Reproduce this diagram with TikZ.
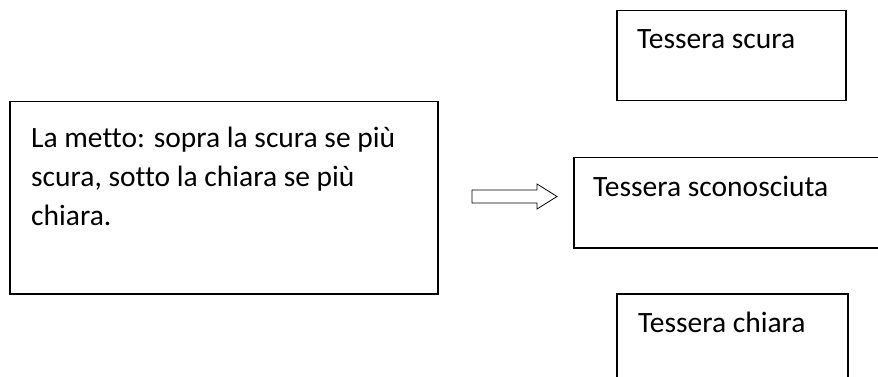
\documentclass[tikz,border=0pt]{standalone}
\usepackage{fontspec}
\setmainfont[Ligatures=NoCommon]{Carlito}
\begin{document}
\begin{tikzpicture}[x=1pt,y=-1pt,
  box/.style={draw=black, line width=1.5pt, inner sep=0pt, anchor=north west},
  txt/.style={anchor=base west, inner sep=0pt, font=\fontsize{29.5}{39}\selectfont, align=left},
  blockarrow/.style={draw=black, line width=0.8pt, fill=white}
]
\useasboundingbox (0,0) rectangle (878,377);
\clip (0,0) rectangle (878,377);
% left box
\node[box, minimum width=428pt, minimum height=192pt] (rule) at (9,101) {};
\node[txt] (ruletext) at (31,225) {La metto: sopra la scura se più\\scura, sotto la chiara se più\\chiara.};
% right boxes
\node[box, minimum width=229pt, minimum height=90pt] (scura) at (616,10) {};
\node[txt] (scuratext) at (637,49) {Tessera scura};
\node[box, minimum width=330pt, minimum height=90pt] (scon) at (573,157) {};
\node[txt] (scontext) at (593,196) {Tessera sconosciuta};
\node[box, minimum width=231pt, minimum height=120pt] (chiara) at (616,293) {};
\node[txt] (chiaratext) at (638,332) {Tessera chiara};
% block arrow
\coordinate (tail) at (472,196.5);
\draw[blockarrow] (tail) ++(0,-6.5) -- ++(65,0) -- ++(0,-6) -- ++(20,12.5) -- ++(-20,12.5) -- ++(0,-6) -- ++(-65,0) -- cycle;
\end{tikzpicture}
\end{document}
